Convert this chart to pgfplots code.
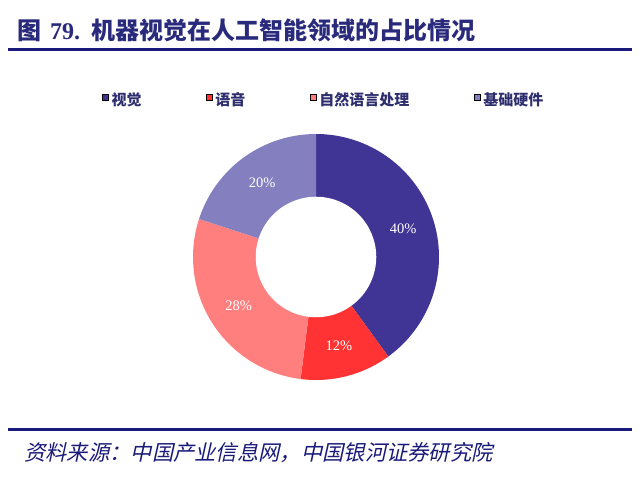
\documentclass[border=0pt]{standalone}
\usepackage{fontspec}
\usepackage{pgfplots}
\pgfplotsset{compat=1.18}
\setmainfont{Liberation Serif}
\newfontfamily\cjk{Noto Sans CJK SC}
\newfontfamily\cjkit[FakeSlant=0.22]{Noto Sans CJK SC}
\definecolor{cA}{HTML}{403494}
\definecolor{cB}{HTML}{FF3333}
\definecolor{cC}{HTML}{FF7F7F}
\definecolor{cD}{HTML}{8480C0}
\definecolor{navy}{HTML}{1A1A7A}
\definecolor{titlec}{HTML}{2A2A7C}
\definecolor{legc}{HTML}{2E2E6E}
\begin{document}
\begin{tikzpicture}
% shares (percent): 40, 12, 28, 20 -> sector angles clockwise from 90 deg
\def\aA{90}\def\aB{-54}\def\aC{-97.2}\def\aD{-198}\def\aE{-270}
\def\rin{0.49}
\useasboundingbox (0,0) rectangle (640bp,480bp);
\node[anchor=west, inner sep=0pt, text=titlec, font=\fontsize{24bp}{27bp}\selectfont\bfseries] at (17bp,450bp) {{\cjk 图}\hspace{3bp} 79.\hspace{3bp} {\cjk 机器视觉在人工智能领域的占比情况}};
\draw[navy, line width=3bp] (8bp,430bp) -- (632bp,430bp);
\draw[navy, line width=3bp] (8bp,50bp) -- (632bp,50bp);
\node[anchor=west, inner sep=0pt, text=navy, font=\fontsize{21.3bp}{24bp}\selectfont] at (24bp,27bp) {\cjkit 资料来源：中国产业信息网，中国银河证券研究院};
\begin{axis}[
  at={(316bp,223bp)}, anchor=center,
  hide axis, scale only axis, width=246bp, height=246bp,
  xmin=-1, xmax=1, ymin=-1, ymax=1, clip=false,
  legend columns=4,
  legend image code/.code={\fill[#1] (0bp,-0.5bp) rectangle (6bp,5.5bp);},
  legend style={draw=none, fill=none, inner sep=0pt, anchor=west,
    at={(-0.370,1.14)},
    font=\fontsize{15bp}{17bp}\selectfont\cjk\bfseries, text=legc,
    nodes={inner sep=0pt},
    /tikz/every odd column/.append style={column sep=3bp},
    /tikz/every even column/.append style={column sep=64.5bp}},
]
\addlegendimage{fill=cA}\addlegendentry{视觉}
\addlegendimage{fill=cB}\addlegendentry{语音}
\addlegendimage{fill=cC}\addlegendentry{自然语言处理}
\addlegendimage{fill=cD}\addlegendentry{基础硬件}
\addplot[fill=cA, draw=none, domain=\aB:\aA, samples=80, forget plot] ({cos(x)},{sin(x)}) -- (axis cs:0,0) -- cycle;
\addplot[fill=cB, draw=none, domain=\aC:\aB, samples=40, forget plot] ({cos(x)},{sin(x)}) -- (axis cs:0,0) -- cycle;
\addplot[fill=cC, draw=none, domain=\aD:\aC, samples=60, forget plot] ({cos(x)},{sin(x)}) -- (axis cs:0,0) -- cycle;
\addplot[fill=cD, draw=none, domain=\aE:\aD, samples=50, forget plot] ({cos(x)},{sin(x)}) -- (axis cs:0,0) -- cycle;
\addplot[fill=white, draw=none, domain=0:360, samples=120, forget plot] ({\rin*cos(x)},{\rin*sin(x)}) -- cycle;
\node[text=white, font=\fontsize{14.5bp}{16bp}\selectfont] at (axis cs:0.7085,0.2302) {40\%};
\node[text=white, font=\fontsize{14.5bp}{16bp}\selectfont] at (axis cs:0.1853,-0.7216) {12\%};
\node[text=white, font=\fontsize{14.5bp}{16bp}\selectfont] at (axis cs:-0.6292,-0.3989) {28\%};
\node[text=white, font=\fontsize{14.5bp}{16bp}\selectfont] at (axis cs:-0.4379,0.6027) {20\%};
\end{axis}
\end{tikzpicture}
\end{document}
